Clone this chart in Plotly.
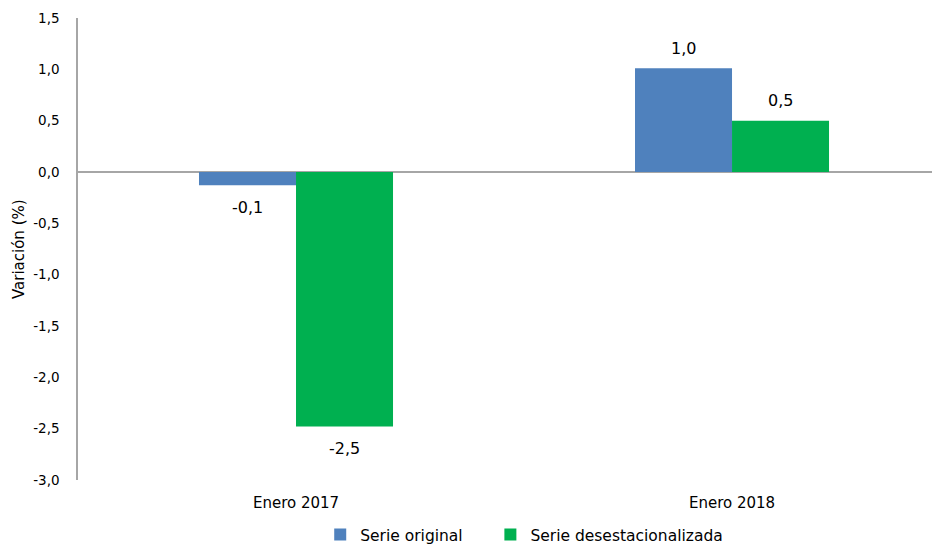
import plotly.graph_objects as go

categories = ["Enero 2017", "Enero 2018"]
serie_original = [-0.13, 1.01]
serie_desest = [-2.48, 0.50]
series_names = ["Serie original", "Serie desestacionalizada"]
colors = ["#4F81BD", "#00B050"]
y_ticks = [1.5, 1.0, 0.5, 0.0, -0.5, -1.0, -1.5, -2.0, -2.5, -3.0]
y_title = "Variación (%)"

def fmt(v, d=1):
    return f"{v:.{d}f}".replace(".", ",")

FONT = "DejaVu Sans"
fig = go.Figure()
legend_ids = ["legend", "legend2"]
for name, vals, col, lg in zip(series_names, [serie_original, serie_desest], colors, legend_ids):
    fig.add_trace(go.Bar(
        x=categories, y=vals, name=name, marker=dict(color=col, line=dict(width=0)),
        hoverinfo="skip", legend=lg,
    ))

# data labels
bar_w_px = 97
for i, vals in enumerate([serie_original, serie_desest]):
    shift = (-0.5 if i == 0 else 0.5) * bar_w_px
    for c, v in zip(categories, vals):
        fig.add_annotation(
            x=c, y=v, xref="x", yref="y", text=fmt(v), showarrow=False,
            xshift=shift, yshift=(20 if v >= 0 else -22),
            font=dict(family=FONT, size=16, color="#000000"),
        )

# y-axis title
fig.add_annotation(
    x=-0.0684, y=0.5, xref="paper", yref="paper", text=y_title, showarrow=False,
    textangle=-90, xanchor="center", yanchor="middle",
    font=dict(family=FONT, size=15, color="#000000"),
)

legend_common = dict(orientation="h", xanchor="left", y=-0.119, yanchor="middle",
                     font=dict(family=FONT, size=15.5, color="#000000"),
                     itemwidth=30, bgcolor="rgba(0,0,0,0)")

# page body has an 8px default margin, so the figure is sized/offset accordingly
fig.update_layout(
    width=932, height=536,
    margin=dict(l=70, r=0, t=10, b=64, autoexpand=False),
    paper_bgcolor="white", plot_bgcolor="white",
    barmode="group", bargap=0.555, bargroupgap=0,
    font=dict(family=FONT, size=13, color="#000000"),
    showlegend=True,
    legend=dict(x=0.281, **legend_common),
    legend2=dict(x=0.4784, **legend_common),
)
fig.update_xaxes(
    type="category", range=[-0.5, 1.477], showgrid=False, showline=False,
    ticks="", ticklabelstandoff=12, automargin=False,
    tickfont=dict(family=FONT, size=15, color="#000000"),
    fixedrange=True,
)
fig.update_yaxes(
    range=[-3.0, 1.5], tickvals=y_ticks, ticktext=[fmt(t) for t in y_ticks],
    showgrid=False, zeroline=True, zerolinecolor="#A6A6A6", zerolinewidth=1.5,
    showline=True, linecolor="#A6A6A6", linewidth=1.5, ticks="",
    ticklabelstandoff=14, automargin=False,
    tickfont=dict(family=FONT, size=13.5, color="#000000"),
)

fig.write_html("out.html")
